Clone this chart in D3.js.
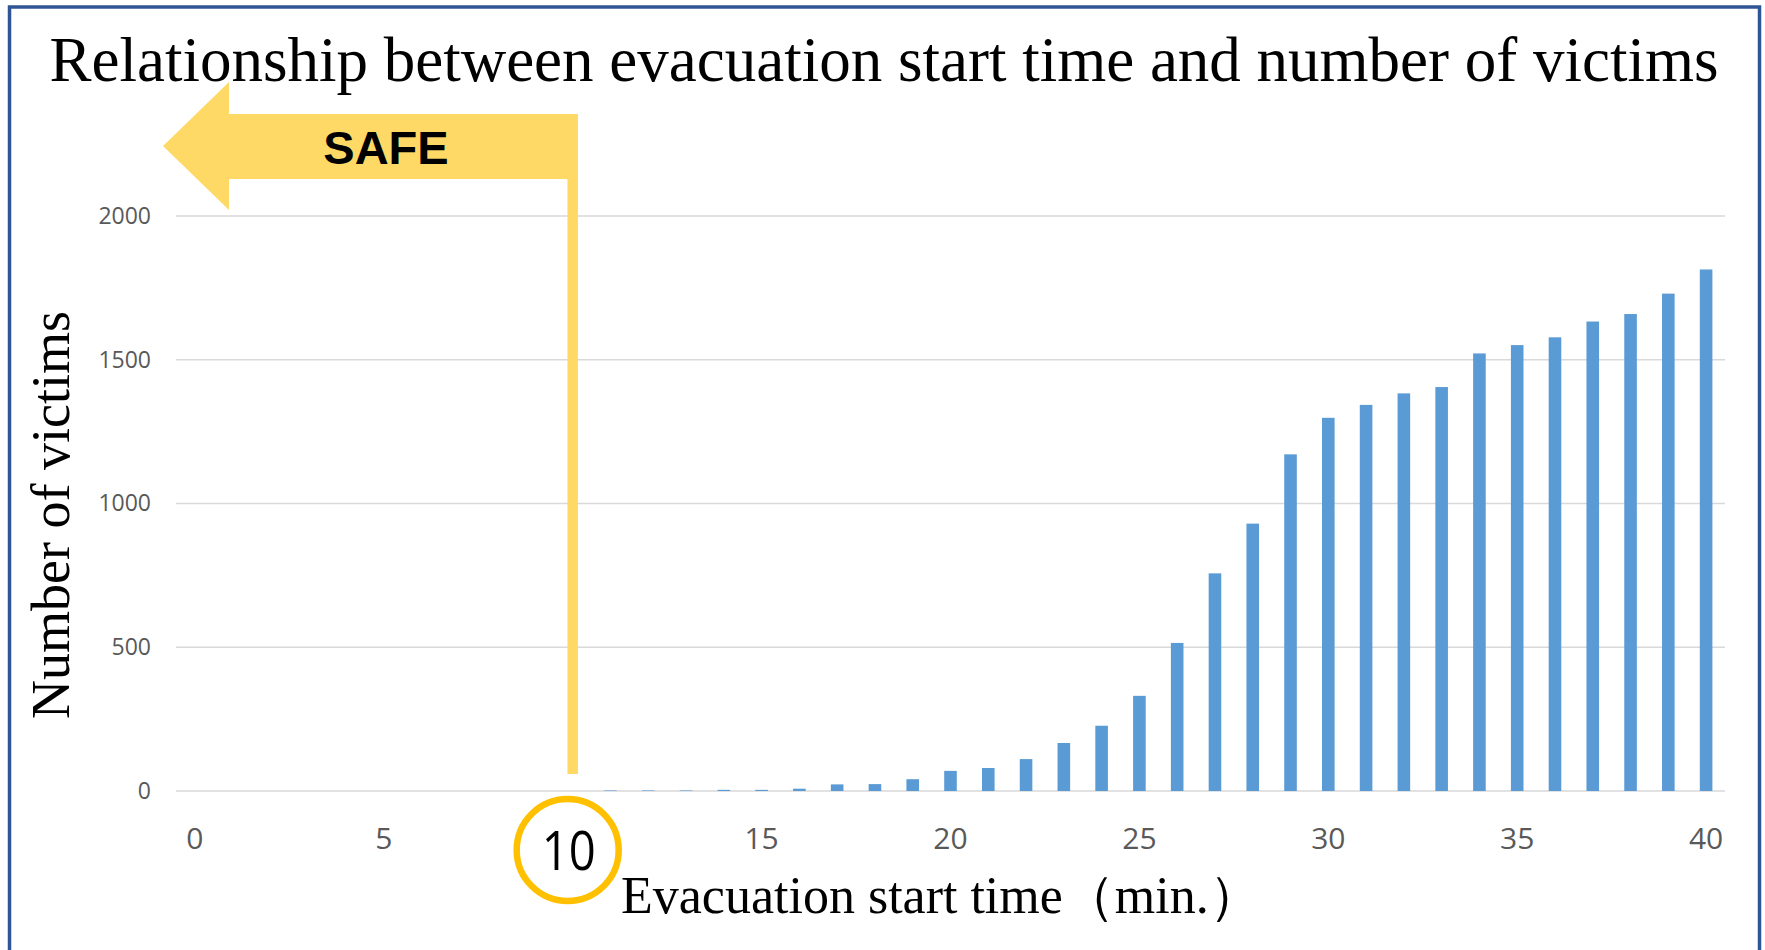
<!DOCTYPE html>
<html>
<head>
<meta charset="utf-8">
<script src="https://cdn.jsdelivr.net/npm/d3@7"></script>
<style>
  html, body { margin: 0; padding: 0; background: #ffffff; }
  svg { display: block; }
</style>
</head>
<body>
<svg id="chart" width="1765" height="950"></svg>
<script>
// ---- data ----
const minutes = d3.range(0, 41);
const victims = [
  0, 0, 0, 0, 0, 0, 0, 0, 0, 0,
  0, 2, 2, 2, 4, 4, 8, 23, 24, 41,
  70, 80, 111, 167, 227, 331, 515, 757, 930, 1171,
  1298, 1343, 1383, 1405, 1522, 1551, 1578, 1633, 1659, 1730,
  1814
];
const yTicks = [0, 500, 1000, 1500, 2000];
const xTickLabels = [0, 5, 15, 20, 25, 30, 35, 40];
const highlightMinute = 10;
const titleText = "Relationship between evacuation start time and number of victims";
const xTitle = "Evacuation start time（min.）";
const yTitle = "Number of victims";
const safeText = "SAFE";

// ---- layout ----
const svg = d3.select("#chart");
const plot = { left: 176, right: 1725, top: 216, bottom: 791 };

const x = d3.scaleBand()
  .domain(minutes)
  .range([plot.left, plot.right])
  .paddingInner(2/3)
  .paddingOuter(1/3);

const y = d3.scaleLinear()
  .domain([0, 2000])
  .range([plot.bottom, plot.top]);

const cx = d => x(d) + x.bandwidth() / 2;

// frame
svg.append("rect")
  .attr("x", 9.5).attr("y", 7)
  .attr("width", 1750).attr("height", 980)
  .attr("fill", "none")
  .attr("stroke", "#2F5597")
  .attr("stroke-width", 3.5);

// title
svg.append("text")
  .attr("x", 884).attr("y", 81)
  .attr("text-anchor", "middle")
  .attr("font-family", "'Liberation Serif', 'Times New Roman', serif")
  .attr("font-size", 63)
  .attr("fill", "#000")
  .text(titleText);

// gridlines
svg.append("g")
  .selectAll("line")
  .data(yTicks)
  .join("line")
  .attr("x1", plot.left).attr("x2", plot.right)
  .attr("y1", d => y(d)).attr("y2", d => y(d))
  .attr("stroke", "#d9d9d9")
  .attr("stroke-width", 1.5);

// y axis labels
const yAxis = d3.axisLeft(y).tickValues(yTicks).tickFormat(d3.format("d")).tickSize(0).tickPadding(0);
const gy = svg.append("g")
  .attr("transform", `translate(151,0)`)
  .call(yAxis);
gy.select(".domain").remove();
gy.selectAll("text")
  .attr("font-family", "'Open Sans', 'Noto Sans', sans-serif")
  .attr("font-size", 23)
  .attr("fill", "#595959");

// x axis labels
const xAxis = d3.axisBottom(x).tickValues(xTickLabels).tickSize(0).tickPadding(0);
const gx = svg.append("g")
  .attr("transform", `translate(0,${plot.bottom})`)
  .call(xAxis);
gx.select(".domain").remove();
gx.selectAll("text")
  .attr("font-family", "'Open Sans', 'Noto Sans', sans-serif")
  .attr("font-size", 30)
  .attr("fill", "#595959")
  .attr("dy", null)
  .attr("y", 58);

// bars
svg.append("g")
  .selectAll("rect")
  .data(minutes.map((m, i) => ({ m, v: victims[i] })).filter(d => d.v > 0))
  .join("rect")
  .attr("x", d => x(d.m))
  .attr("width", x.bandwidth())
  .attr("y", d => y(d.v))
  .attr("height", d => y(0) - y(d.v))
  .attr("fill", "#5B9BD5");

// SAFE arrow + vertical line at highlight minute
const lineX = cx(highlightMinute);
const lineW = 10.5;
const shaftRight = lineX + lineW / 2;
const shaftTop = 114, shaftBot = 179;
const headX = 229, headTop = 82, headBot = 210, tipX = 163, tipY = 146;
svg.append("path")
  .attr("d", `M${tipX},${tipY} L${headX},${headTop} L${headX},${shaftTop} L${shaftRight},${shaftTop} L${shaftRight},${shaftBot} L${headX},${shaftBot} L${headX},${headBot} Z`)
  .attr("fill", "#FFD966");
svg.append("rect")
  .attr("x", lineX - lineW / 2)
  .attr("y", shaftBot - 1)
  .attr("width", lineW)
  .attr("height", 774 - shaftBot + 1)
  .attr("fill", "#FFD966");
svg.append("text")
  .attr("x", 386).attr("y", 164)
  .attr("text-anchor", "middle")
  .attr("font-family", "'Liberation Sans', Arial, sans-serif")
  .attr("font-weight", "bold")
  .attr("font-size", 47)
  .attr("fill", "#000")
  .text(safeText);

// highlight circle and label for 10
svg.append("circle")
  .attr("cx", lineX - 5).attr("cy", 850)
  .attr("r", 51)
  .attr("fill", "none")
  .attr("stroke", "#FFC000")
  .attr("stroke-width", 6.5);
svg.append("text")
  .attr("x", lineX - 4).attr("y", 870)
  .attr("text-anchor", "middle")
  .attr("font-family", "'Open Sans', 'Noto Sans', sans-serif")
  .attr("font-weight", 400)
  .attr("font-size", 55)
  .attr("textLength", 54)
  .attr("lengthAdjust", "spacingAndGlyphs")
  .attr("fill", "#000")
  .text(String(highlightMinute));

// axis titles
svg.append("text")
  .attr("x", 621).attr("y", 913)
  .attr("font-family", "'Liberation Serif', 'Times New Roman', serif")
  .attr("font-size", 52)
  .attr("fill", "#000")
  .text(xTitle);

svg.append("text")
  .attr("transform", "translate(69,515) rotate(-90)")
  .attr("text-anchor", "middle")
  .attr("font-family", "'Liberation Serif', 'Times New Roman', serif")
  .attr("font-size", 54)
  .attr("fill", "#000")
  .text(yTitle);
</script>
</body>
</html>
